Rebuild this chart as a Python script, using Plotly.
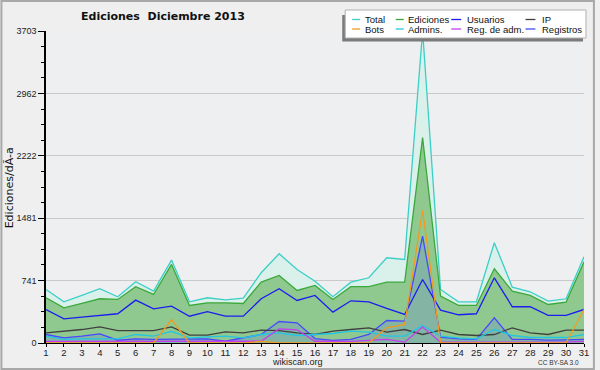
import plotly.graph_objects as go

days = list(range(1, 32))
total = [636, 489, 564, 644, 549, 727, 616, 984, 489, 537, 513, 532, 834, 1060, 873, 734,
         549, 722, 774, 1012, 992, 3703, 636, 489, 489, 1190, 663, 608, 497, 525, 1024]
ediciones = [537, 418, 469, 525, 517, 668, 576, 933, 446, 477, 477, 469, 722, 802, 624, 683,
             517, 668, 668, 722, 722, 2438, 556, 446, 446, 881, 616, 564, 457, 485, 964]
usuarios = [398, 287, 307, 327, 347, 509, 406, 437, 318, 371, 318, 318, 525, 644, 505, 564,
            366, 501, 489, 410, 339, 754, 390, 335, 347, 774, 430, 430, 327, 327, 398]
ip = [121, 140, 160, 192, 148, 148, 148, 192, 93, 93, 133, 121, 152, 148, 119, 101,
      140, 160, 180, 129, 160, 101, 152, 101, 89, 101, 180, 121, 101, 152, 152]
bots = [0, 0, 0, 0, 0, 0, 0, 279, 0, 0, 0, 0, 20, 0, 0, 0,
        0, 0, 0, 180, 220, 1574, 0, 0, 0, 0, 0, 0, 0, 0, 398]
admins = [81, 42, 50, 50, 50, 101, 81, 137, 61, 73, 81, 61, 101, 121, 89, 101,
          113, 140, 130, 81, 81, 208, 81, 61, 50, 160, 89, 65, 61, 65, 101]
regadm = [20, 20, 20, 20, 20, 20, 20, 20, 20, 20, 20, 20, 21, 168, 157, 21,
          20, 20, 30, 42, 10, 190, 10, 10, 10, 10, 10, 10, 10, 10, 20]
registros = [101, 61, 81, 109, 33, 50, 42, 42, 42, 50, 21, 61, 101, 255, 240, 53,
             30, 42, 101, 267, 259, 1269, 69, 50, 42, 299, 42, 42, 33, 38, 42]

y_ticks = [0, 741, 1481, 2222, 2962, 3703]
y_ticktext = ["0", "741", "1481", "2222", "2962", "3703"]
legend_names = ["Total", "Ediciones", "Usuarios", "IP", "Bots", "Admins.", "Reg. de adm.", "Registros"]

C_TOTAL = "#3ccfc6"
C_EDIC = "#3aa83a"
C_USU = "#1c1cf0"
C_IP = "#404040"
C_BOTS = "#f39a1e"
C_ADM = "#22c6e2"
C_REGADM = "#c43cf0"
C_REG = "#4848ff"
legend_colors = [C_TOTAL, C_EDIC, C_USU, C_IP, C_BOTS, C_ADM, C_REGADM, C_REG]

W, H = 600, 370
L, R, T, B = 46, 589, 31, 343


def px(x):
    return (x - L) / (R - L)


def py(y):
    return (B - y) / (B - T)


fig = go.Figure()
fig.add_trace(go.Scatter(x=days, y=total, mode="lines", fill="tozeroy",
                         fillcolor="#d9f1ea", line=dict(color=C_TOTAL, width=1.3)))
fig.add_trace(go.Scatter(x=days, y=ediciones, mode="lines", fill="tozeroy",
                         fillcolor="#90c990", line=dict(color=C_EDIC, width=1.3)))
fig.add_trace(go.Scatter(x=days, y=registros, mode="lines", fill="tozeroy",
                         fillcolor="rgba(70,90,255,0.18)", line=dict(color=C_REG, width=1.3)))
fig.add_trace(go.Scatter(x=days, y=ip, mode="lines", line=dict(color=C_IP, width=1.3)))
fig.add_trace(go.Scatter(x=days, y=admins, mode="lines", line=dict(color=C_ADM, width=1.3)))
fig.add_trace(go.Scatter(x=days, y=regadm, mode="lines", line=dict(color=C_REGADM, width=1.3)))
fig.add_trace(go.Scatter(x=days, y=usuarios, mode="lines", line=dict(color=C_USU, width=1.3)))
fig.add_trace(go.Scatter(x=days, y=bots, mode="lines", line=dict(color=C_BOTS, width=1.3)))

minor_vals = []
for i in range(len(y_ticks) - 1):
    step = (y_ticks[i + 1] - y_ticks[i]) / 4
    for k in range(1, 4):
        minor_vals.append(y_ticks[i] + k * step)

shapes = []
annotations = []
# outer border
shapes.append(dict(type="rect", xref="paper", yref="paper", x0=px(1), x1=px(W - 1),
                   y0=py(1), y1=py(H - 1), line=dict(color="#a8a8a8", width=2),
                   fillcolor="rgba(0,0,0,0)", layer="above"))
# legend shadow and box
shapes.append(dict(type="rect", xref="paper", yref="paper", x0=px(345), x1=px(588),
                   y0=py(41.5), y1=py(15), line=dict(width=0), fillcolor="#7a7a7a", layer="above"))
shapes.append(dict(type="rect", xref="paper", yref="paper", x0=px(348), x1=px(591),
                   y0=py(38), y1=py(10), line=dict(color="#b0b0b0", width=1),
                   fillcolor="#ffffff", layer="above"))
col_line_x = [(355, 363), (399, 407), (455, 465), (530, 540)]
col_text_x = [366, 409, 469, 545]
row_y = [19.5, 29]
for idx, (name, col) in enumerate(zip(legend_names, legend_colors)):
    r, c = divmod(idx, 4)
    x0, x1 = col_line_x[c]
    shapes.append(dict(type="line", xref="paper", yref="paper", x0=px(x0), x1=px(x1),
                       y0=py(row_y[r]), y1=py(row_y[r]), line=dict(color=col, width=1.3),
                       layer="above"))
    annotations.append(dict(text=name, xref="paper", yref="paper", x=px(col_text_x[c]),
                            y=py(row_y[r]), xanchor="left", yanchor="middle", showarrow=False,
                            font=dict(family="Liberation Sans", size=9.5, color="#111111")))

annotations.append(dict(text="<b>Ediciones\u00a0 Diciembre 2013</b>", xref="paper", yref="paper",
                        x=px(164), y=py(17), xanchor="center", yanchor="middle", showarrow=False,
                        font=dict(family="DejaVu Sans", size=11, color="#111111")))
annotations.append(dict(text="Ediciones/dÃ-a", xref="paper", yref="paper", x=px(9), y=py(188),
                        xanchor="center", yanchor="middle", showarrow=False, textangle=-90,
                        font=dict(family="DejaVu Sans", size=11, color="#111111")))
annotations.append(dict(text="wikiscan.org", xref="paper", yref="paper", x=px(300), y=py(362),
                        xanchor="center", yanchor="middle", showarrow=False,
                        font=dict(family="Liberation Sans", size=9, color="#222222")))
annotations.append(dict(text="CC BY-SA 3.0", xref="paper", yref="paper", x=px(586), y=py(362),
                        xanchor="right", yanchor="middle", showarrow=False,
                        font=dict(family="Liberation Sans", size=6.5, color="#333333")))

fig.update_layout(
    width=W, height=H,
    margin=dict(l=L, r=W - R, t=T, b=H - B, pad=0),
    paper_bgcolor="#efefef",
    plot_bgcolor="#eeeff1",
    showlegend=False,
    shapes=shapes,
    annotations=annotations,
    xaxis=dict(range=[1, 31], tickvals=days, ticktext=[str(d) for d in days],
               showgrid=False, zeroline=False, showline=True, linecolor="#000000", linewidth=1,
               ticks="outside", ticklen=3, tickcolor="#000000", ticklabelstandoff=-2,
               tickfont=dict(family="Liberation Sans", size=9.5, color="#222222")),
    yaxis=dict(range=[0, 3703], tickvals=y_ticks, ticktext=y_ticktext,
               showgrid=True, gridcolor="#c9c9c9", gridwidth=1, zeroline=False,
               showline=True, linecolor="#000000", linewidth=1.5,
               ticks="outside", ticklen=6, tickcolor="#000000",
               tickfont=dict(family="Liberation Sans", size=9, color="#222222"),
               minor=dict(tickvals=minor_vals, ticks="outside", ticklen=3,
                          tickcolor="#000000", showgrid=False)),
)

fig.write_html("out.html", config={"displayModeBar": False},
               post_script="document.body.style.margin='0';document.body.style.overflow='hidden';")
